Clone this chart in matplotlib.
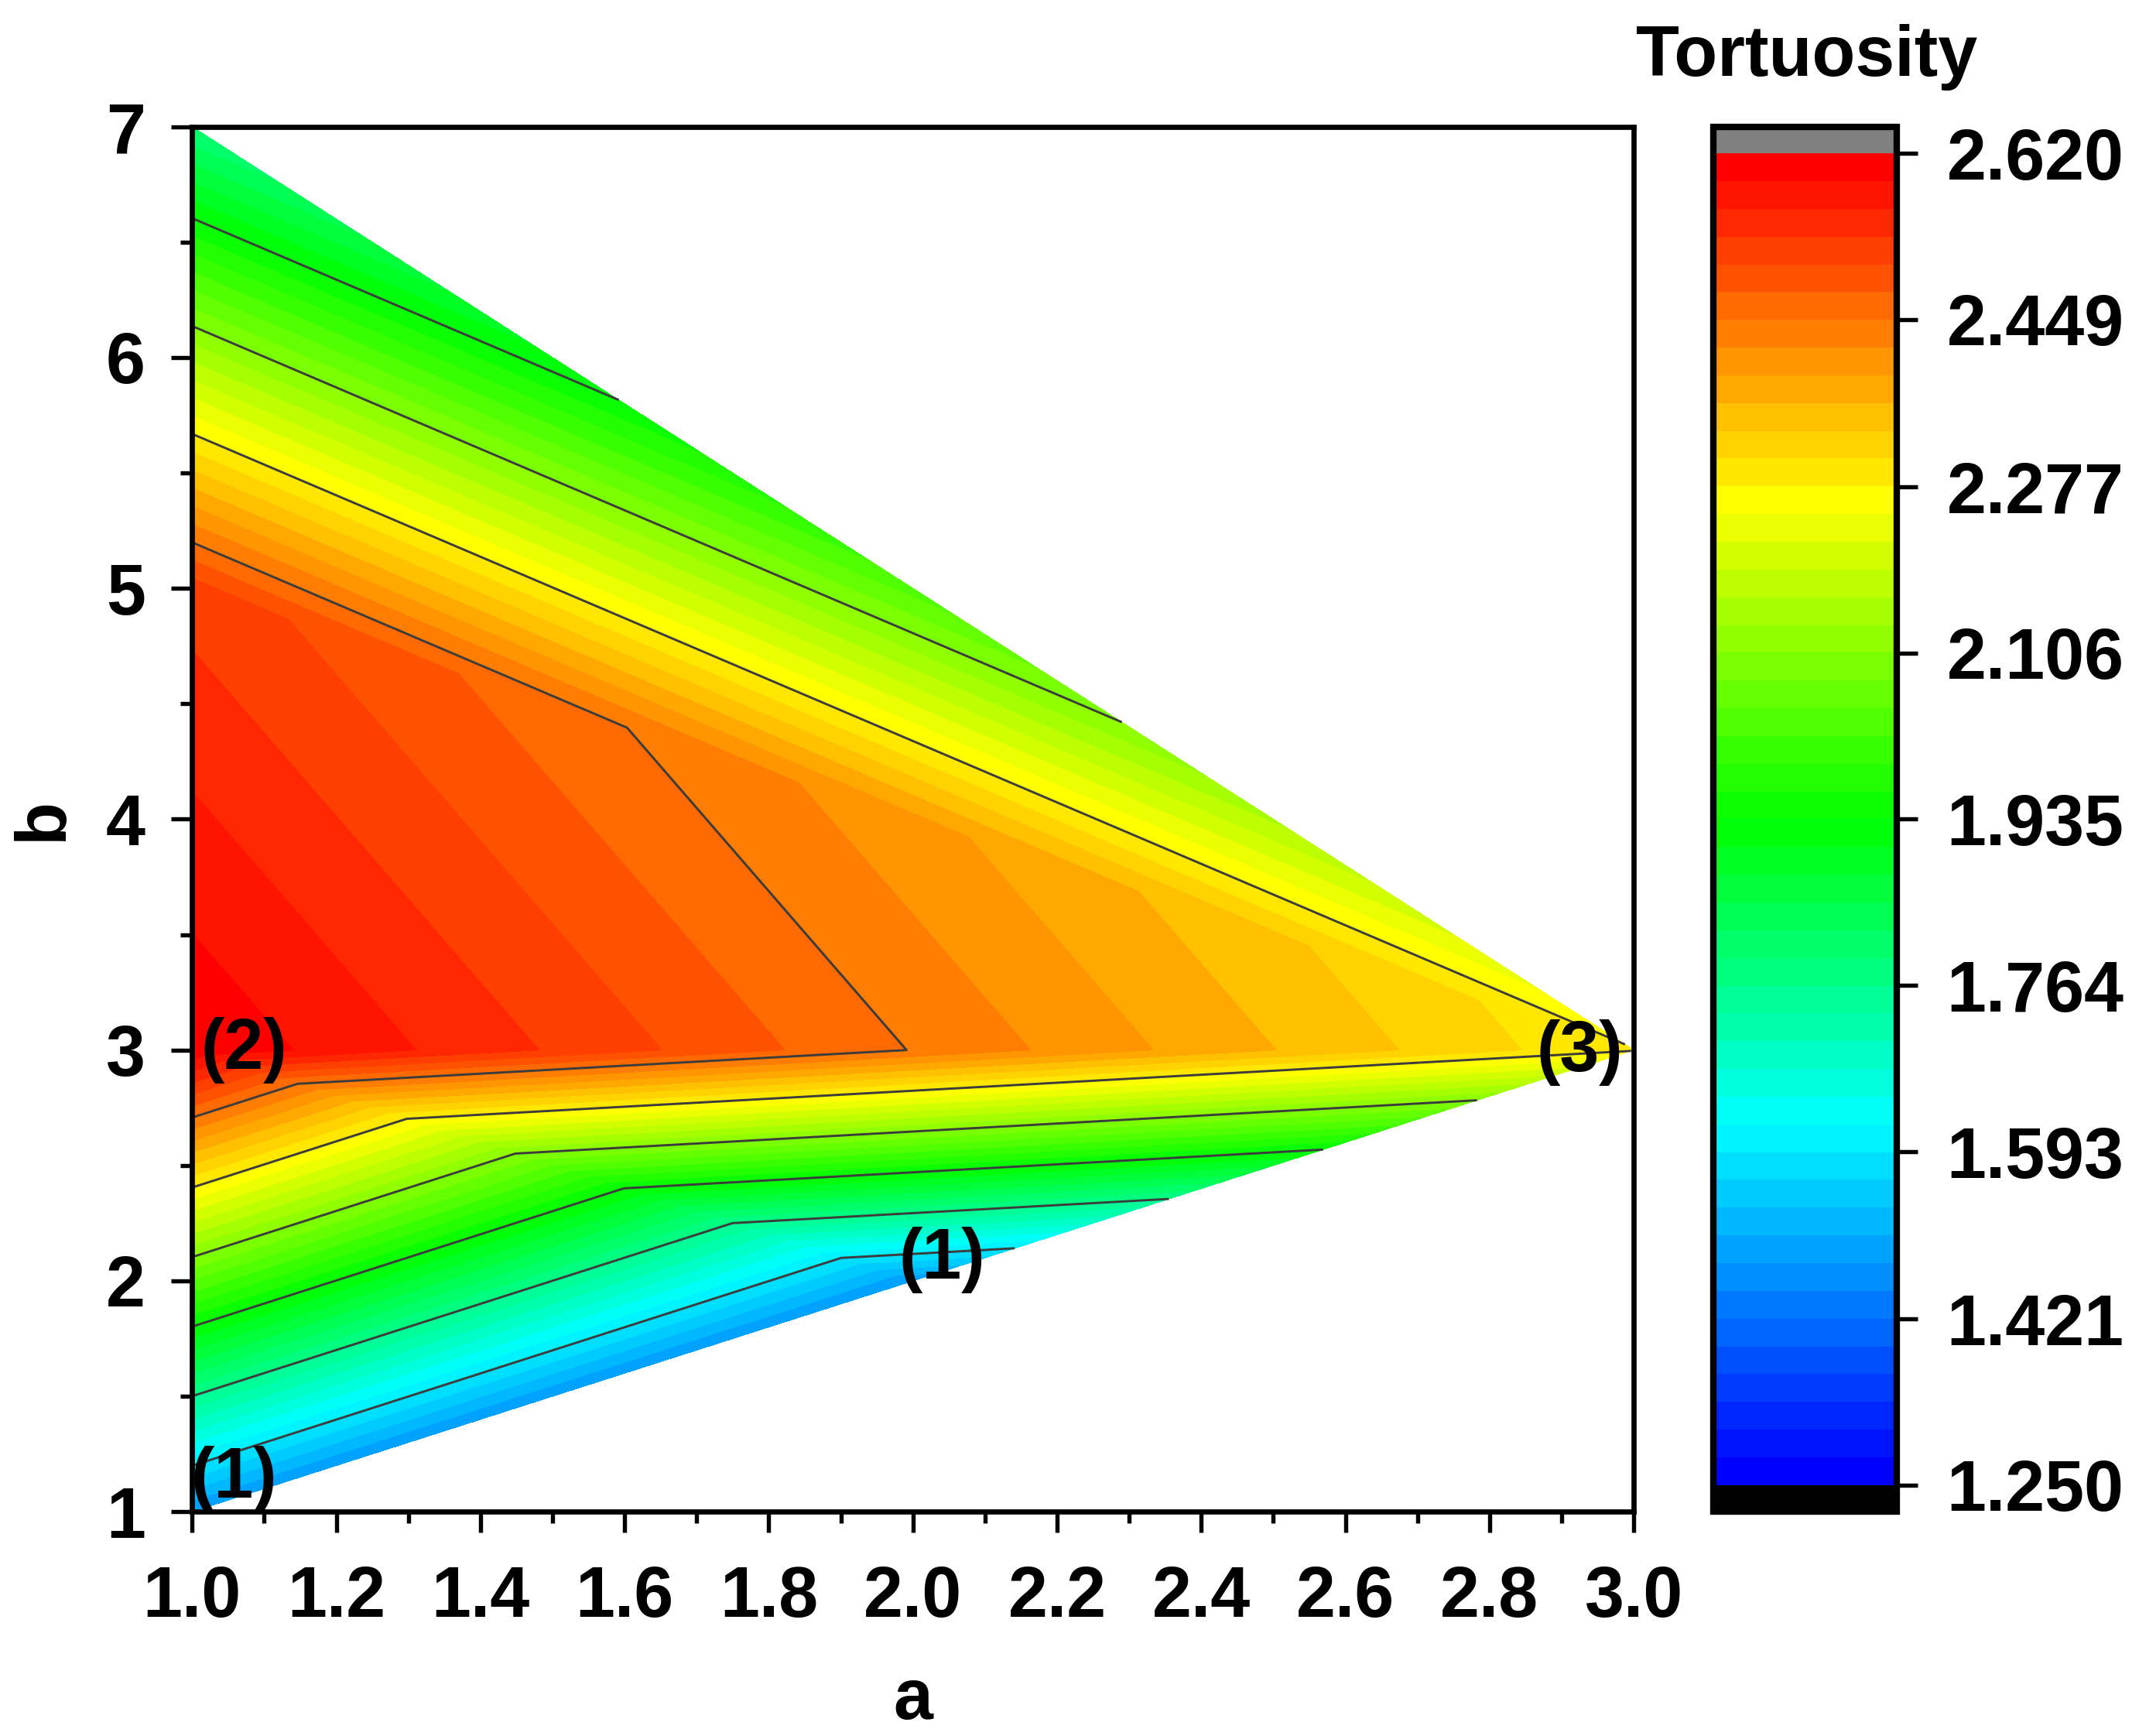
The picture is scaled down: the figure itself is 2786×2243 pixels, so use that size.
import numpy as np
import matplotlib
matplotlib.use("Agg")
import matplotlib.pyplot as plt
import matplotlib.tri as mtri
from matplotlib.colors import ListedColormap, LinearSegmentedColormap
from matplotlib.ticker import MultipleLocator, FormatStrFormatter

# ---- data: sample points (a, b) and tortuosity values ----
a_vals = [1.0, 2.0, 1.0, 3.0, 1.0, 1.0]
b_vals = [1.0, 2.0, 3.0, 3.0, 5.0, 7.0]
tortuosity = [1.48, 1.48, 2.615, 2.28, 2.522, 1.79]

cbar_ticks = [1.250, 1.421, 1.593, 1.764, 1.935, 2.106, 2.277, 2.449, 2.620]
cbar_ticklabels = ["1.250", "1.421", "1.593", "1.764", "1.935", "2.106", "2.277", "2.449", "2.620"]
line_levels = [1.593, 1.764, 1.935, 2.106, 2.277, 2.449]
region_labels = ["(1)", "(1)", "(2)", "(3)"]
region_a = [1.058, 2.04, 1.072, 2.925]
region_b = [1.14, 2.09, 3.0, 2.99]

vmin, vmax, n_bands = 1.25, 2.62, 48

plt.rcParams["font.family"] = ["Liberation Sans", "DejaVu Sans"]
plt.rcParams["font.weight"] = "bold"

fig = plt.figure(figsize=(2786 / 300, 2243 / 300), dpi=300)
ax = fig.add_axes([0.0891, 0.1292, 0.6687, 0.7978])

levels = np.linspace(vmin, vmax, n_bands + 1)
anchors = [(0.0, (0, 0, 1)), (12.5 / 47, (0, 1, 1)), (23.5 / 47, (0, 1, 0)),
           (35 / 47, (1, 1, 0)), (1.0, (1, 0, 0))]
base = LinearSegmentedColormap.from_list("origin_rainbow", anchors)
cmap = ListedColormap(base(np.linspace(0, 1, n_bands)))
cmap.set_over("#808080")
cmap.set_under("black")

tri = mtri.Triangulation(a_vals, b_vals)
tcf = ax.tricontourf(tri, tortuosity, levels=levels, cmap=cmap, extend="both")
ax.tricontour(tri, tortuosity, levels=line_levels, colors="#3c3c3c", linewidths=0.7)

for txt, xa, yb in zip(region_labels, region_a, region_b):
    ax.text(xa, yb, txt, fontsize=22, fontweight="bold", ha="center", va="center")

ax.set_xlim(1.0, 3.0)
ax.set_ylim(1, 7)
ax.xaxis.set_major_locator(MultipleLocator(0.2))
ax.xaxis.set_minor_locator(MultipleLocator(0.1))
ax.yaxis.set_major_locator(MultipleLocator(1))
ax.yaxis.set_minor_locator(MultipleLocator(0.5))
ax.xaxis.set_major_formatter(FormatStrFormatter("%.1f"))
ax.tick_params(which="major", direction="out", length=6.5, width=1.3, labelsize=22)
ax.tick_params(which="minor", direction="out", length=3.5, width=1.3)
ax.tick_params(axis="x", which="major", pad=10)
ax.tick_params(axis="y", which="major", pad=8)
for sp in ax.spines.values():
    sp.set_linewidth(1.6)
ax.set_xlabel("a", fontsize=22, fontweight="bold", labelpad=11)
ax.set_ylabel("b", fontsize=22, fontweight="bold", labelpad=9)

cax = fig.add_axes([0.7946, 0.1292, 0.0852, 0.7978])
cb = fig.colorbar(tcf, cax=cax, extend="both", extendrect=True, extendfrac=0.02,
                  ticks=cbar_ticks)
cb.ax.set_yticklabels(cbar_ticklabels)
cb.ax.minorticks_off()
cb.ax.tick_params(direction="out", length=6.5, width=1.3, labelsize=22, pad=9)
cb.outline.set_linewidth(2.0)
fig.text(0.838, 0.967, "Tortuosity", fontsize=22, fontweight="bold", ha="center", va="center")

fig.savefig("out.png", dpi=300, facecolor="white")
